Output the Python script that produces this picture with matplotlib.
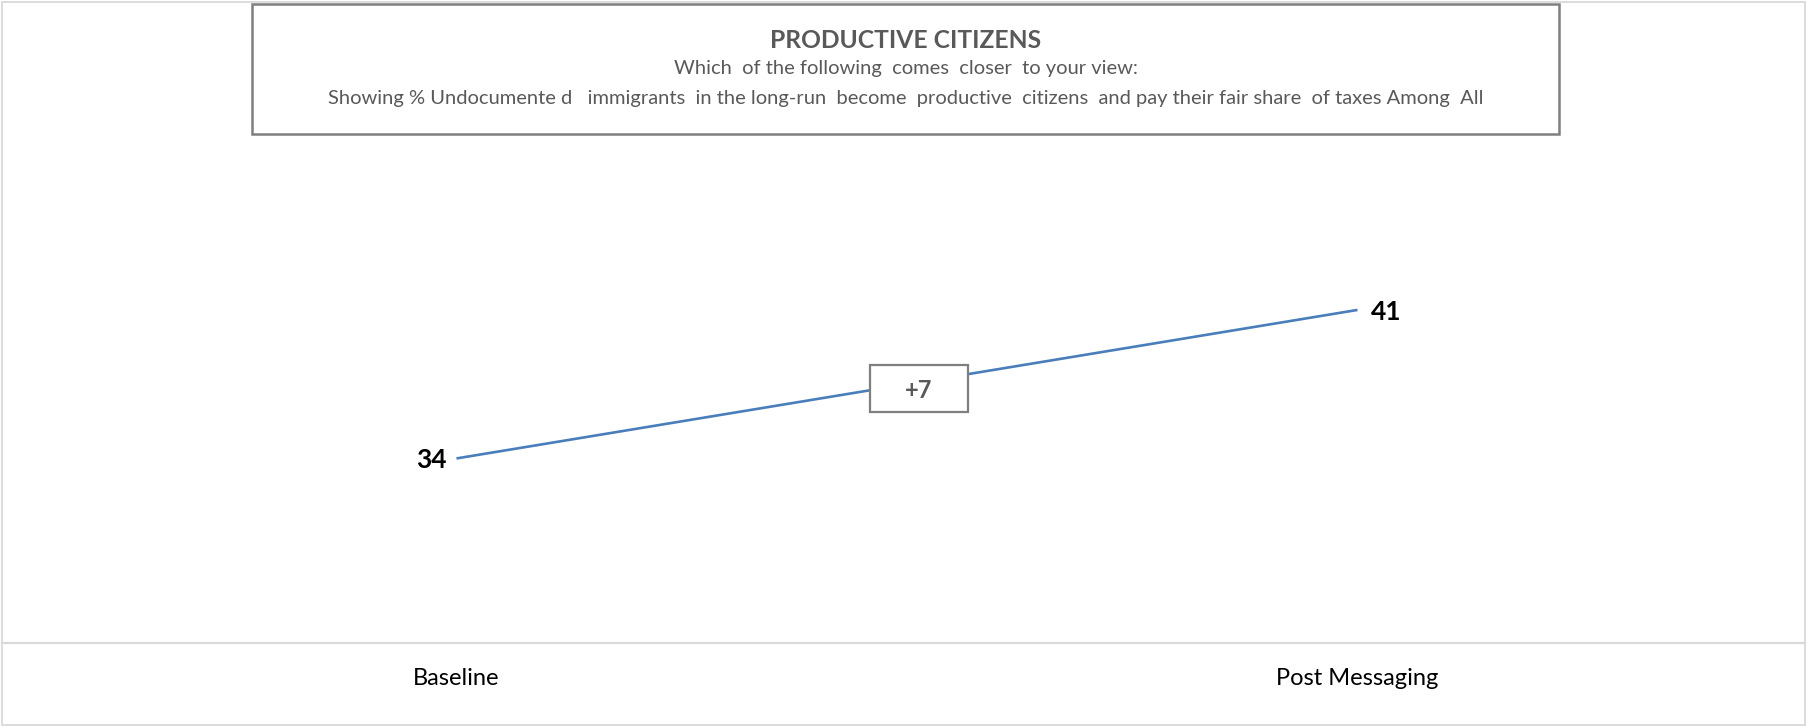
import matplotlib
matplotlib.use("Agg")
import matplotlib.pyplot as plt
from matplotlib.patches import Rectangle
from matplotlib.lines import Line2D
from matplotlib.transforms import ScaledTranslation

# ---- data ----
categories = ["Baseline", "Post Messaging"]
values = [34, 41]
title = "PRODUCTIVE CITIZENS"
subtitle1 = "Which  of the following  comes  closer  to your view:"
subtitle2 = ("Showing % Undocumente d   immigrants  in the long-run  become  productive  "
             "citizens  and pay their fair share  of taxes Among  All")

W, H = 1807, 727
DPI = 100
plt.rcParams['font.family'] = ['Lato', 'DejaVu Sans']

fig = plt.figure(figsize=(W / DPI, H / DPI), dpi=DPI)
fig.patch.set_facecolor("white")


def fx(x):
    return x / W


def fy(y):
    return 1 - y / H


# plot area
ax_left, ax_right = 6, 1808
ax_top, ax_bottom = 119, 643
ax = fig.add_axes([fx(ax_left), fy(ax_bottom), (ax_right - ax_left) / W, (ax_bottom - ax_top) / H])
ax.set_facecolor("none")
for s in ax.spines.values():
    s.set_visible(False)
ax.set_xlim(-0.5, 1.5)
ax.set_ylim(25.3, 50)
ax.set_yticks([])
x = list(range(len(categories)))
ax.set_xticks(x, categories)
ax.tick_params(axis="x", length=0, pad=18, labelsize=17, labelcolor="black")

line_color = "#4a7ebb"
ax.plot(x, values, color=line_color, lw=1.9, solid_capstyle="butt")

# data labels
ax.annotate(str(values[0]), (x[0], values[0]), xytext=(-7, 0), textcoords="offset points",
            ha="right", va="center_baseline", fontsize=19, fontweight="bold", color="black")
ax.annotate(str(values[1]), (x[1], values[1]), xytext=(10, 0), textcoords="offset points",
            ha="left", va="center_baseline", fontsize=19, fontweight="bold", color="black")

# difference box
xm = (x[0] + x[1]) / 2 + 0.013
ym = (values[0] + values[1]) / 2 - 0.2
trans = fig.dpi_scale_trans + ScaledTranslation(xm, ym, ax.transData)
bw, bh = 98 / DPI, 47 / DPI
ax.add_patch(Rectangle((-bw / 2, -bh / 2), bw, bh, transform=trans, facecolor="white",
                       edgecolor="#7f7f7f", lw=1.6, zorder=5, clip_on=False))
ax.text(0, 0, f"+{values[1] - values[0]}", transform=trans, ha="center", va="center_baseline",
        fontsize=17, fontweight="bold", color="#595959", zorder=6)

# outer border and divider
border = "#d9d9d9"
fig.add_artist(Rectangle((fx(2), fy(725)), (1803) / W, (723) / H, transform=fig.transFigure,
                         facecolor="none", edgecolor=border, lw=1.3))
fig.add_artist(Line2D([fx(2), fx(1805)], [fy(643), fy(643)], transform=fig.transFigure,
                      color=border, lw=1.6))

# title box
fig.add_artist(Rectangle((fx(252), fy(134)), (1559 - 252) / W, (134 - 3.5) / H,
                         transform=fig.transFigure, facecolor="white", edgecolor="#7f7f7f",
                         lw=1.8, zorder=3))
cx = fx(906)
fig.text(cx, fy(48.5), title, ha="center", va="baseline", fontsize=17.7, fontweight="bold",
         color="#595959", zorder=4)
fig.text(cx, fy(74), subtitle1, ha="center", va="baseline", fontsize=14.5, color="#595959", zorder=4)
fig.text(cx, fy(104), subtitle2, ha="center", va="baseline", fontsize=14.5, color="#595959", zorder=4)

fig.savefig("out.png", dpi=DPI, facecolor="white")
